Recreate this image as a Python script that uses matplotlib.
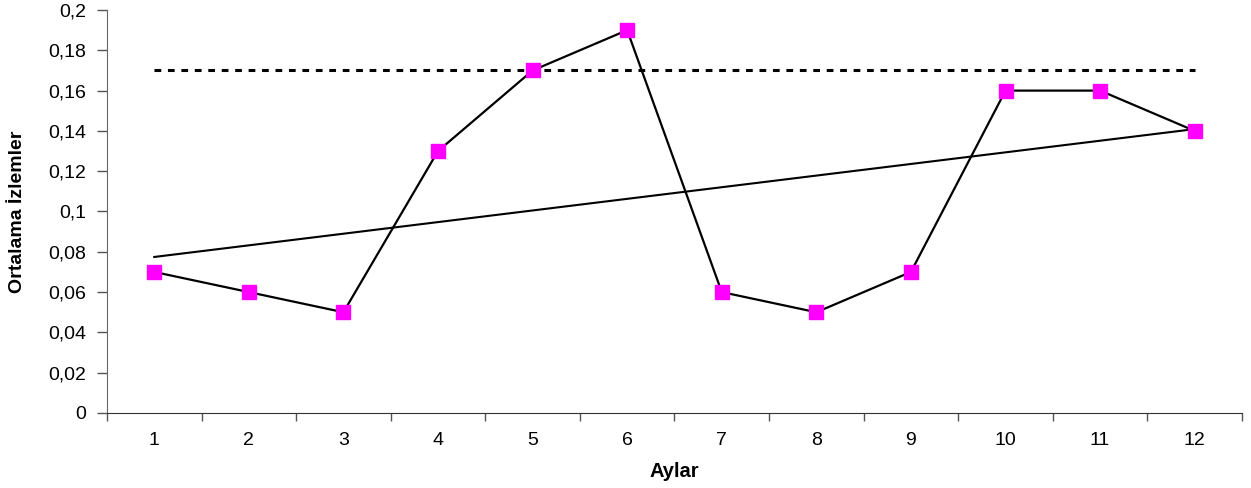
import numpy as np
import matplotlib.pyplot as plt
from matplotlib.ticker import FuncFormatter, FixedLocator

# Monthly averages (Aylar 1..12)
months = [1, 2, 3, 4, 5, 6, 7, 8, 9, 10, 11, 12]
values = [0.07, 0.06, 0.05, 0.13, 0.17, 0.19, 0.06, 0.05, 0.07, 0.16, 0.16, 0.14]
limit_level = [0.17] * 12
y_ticks = [0, 0.02, 0.04, 0.06, 0.08, 0.1, 0.12, 0.14, 0.16, 0.18, 0.2]

plt.rcParams['font.family'] = ['Liberation Sans', 'DejaVu Sans']

fig = plt.figure(figsize=(12.51, 4.88), dpi=100)
ax = fig.add_axes([0.0855, 0.1537, 0.9073, 0.8258])

x = np.array(months)
# dashed reference line
ax.plot(x, limit_level, color="black", linewidth=2.2, linestyle=(0, (2.2, 2.2)))
# linear trend line (Excel-style)
coef = np.polyfit(x, values, 1)
ax.plot(x, np.polyval(coef, x), color="black", linewidth=1.5)
# data series
ax.plot(x, values, color="black", linewidth=1.6, marker="s", markersize=10.5,
        markerfacecolor="#ff00ff", markeredgecolor="#ff00ff", zorder=3)

ax.set_xlim(0.5, 12.5)
ax.set_ylim(0, 0.2)
ax.yaxis.set_major_locator(FixedLocator(y_ticks))
ax.yaxis.set_major_formatter(FuncFormatter(lambda v, p: ("%g" % round(v, 2)).replace(".", ",")))
ax.set_xticks(x)
ax.set_xticklabels([str(m) for m in months])
ax.set_xticks(np.arange(0.5, 13, 1), minor=True)
ax.tick_params(axis="x", which="major", length=0, pad=14, labelsize=14)
ax.tick_params(axis="x", which="minor", length=6, width=1, color="#555555")
ax.tick_params(axis="y", length=7, width=1, color="#555555", labelsize=14, pad=8)

for side in ["top", "right"]:
    ax.spines[side].set_visible(False)
ax.spines["left"].set_color("#666666")
ax.spines["bottom"].set_color("#333333")

ax.set_xlabel("Aylar", fontsize=14.5, fontweight="bold", labelpad=9)
ax.set_ylabel("Ortalama İzlemler", fontsize=14, fontweight="bold")
ax.yaxis.set_label_coords(-0.071, 0.5)

fig.savefig("out.png", dpi=100)
